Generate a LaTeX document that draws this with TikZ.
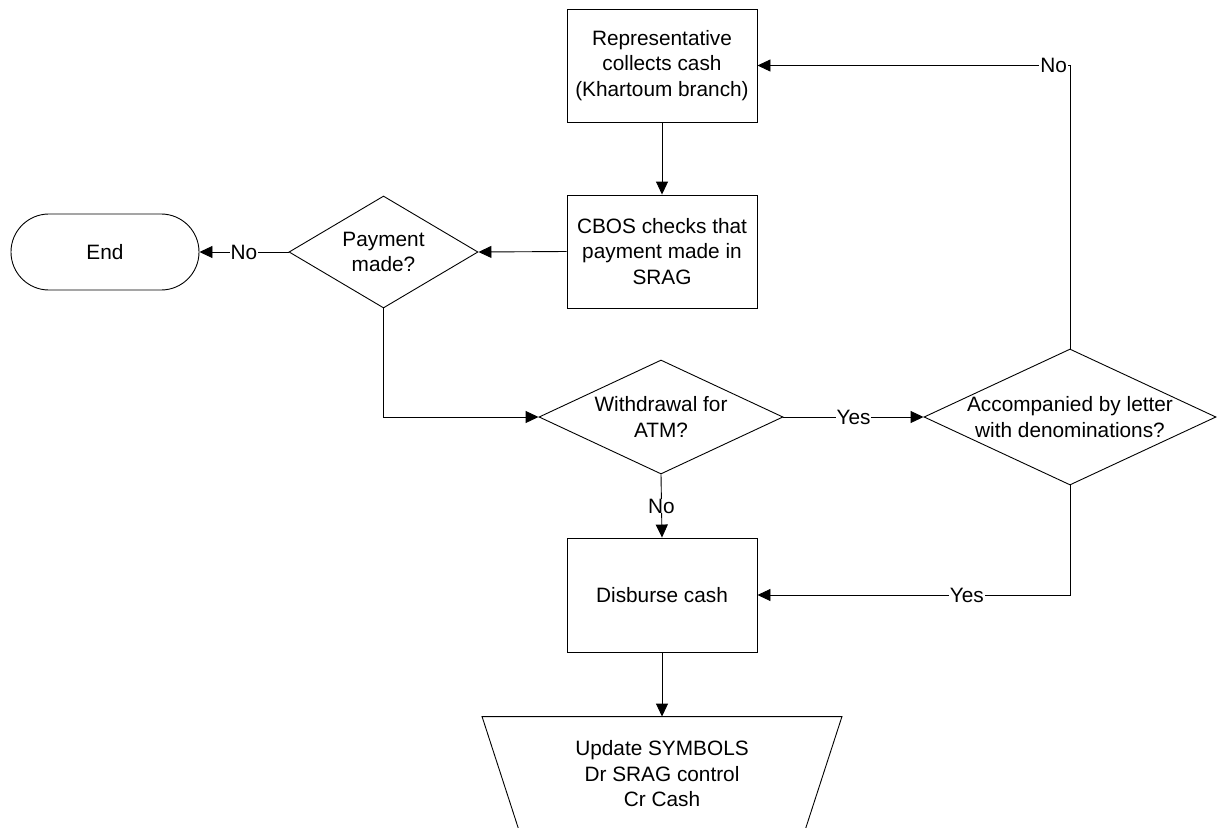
\documentclass[tikz,border=0pt]{standalone}
\usepackage{fontspec}
\setmainfont{Liberation Sans}
\usetikzlibrary{arrows.meta,shapes.geometric}
\begin{document}
\begin{tikzpicture}[x=1pt,y=-1pt,line width=0.9pt,
  every node/.style={font=\fontsize{20.8}{25.5}\selectfont, align=center, inner sep=0pt},
  proc/.style={draw, rectangle, minimum width=190pt, minimum height=113pt},
  decision/.style n args={2}{draw, diamond, minimum width=#1, minimum height=#2},
  terminal/.style={draw, rectangle, rounded corners=37.9pt, minimum width=188pt, minimum height=76pt},
  manualop/.style={rectangle, minimum width=359pt, minimum height=114pt},
  link/.style={-{Triangle[length=13pt,width=12pt]}},
  lbl/.style={fill=white, inner xsep=1pt, inner ysep=0pt}]
  \useasboundingbox (0,0) rectangle (1217,827);
  \clip (0,0) rectangle (1217,827);

  % process steps
  \node[proc] (collect) at (662,65.5) {Representative\\collects cash\\(Khartoum branch)};
  \node[proc] (cbos) at (662,251.5) {CBOS checks that\\payment made in\\SRAG};
  \node[proc, minimum height=114pt] (disburse) at (662,595) {Disburse cash};
  \node[terminal] (end) at (105,252) {End};

  % decisions (text placed as centred labels so the diamond keeps its size)
  \node[decision={189pt}{112pt}, label={[align=center]center:Payment\\made?}] (paid) at (383.5,252) {};
  \node[decision={244pt}{114pt}, label={[align=center]center:Withdrawal for\\ATM?}] (atm) at (661,417) {};
  \node[decision={292pt}{136pt}, label={[align=center]center:Accompanied by letter\\with denominations?}] (letter) at (1070,417) {};

  % manual operation, running off the lower edge
  \node[manualop] (update) at (662,774) {Update SYMBOLS\\Dr SRAG control\\Cr Cash};
  \draw (update.north west) -- (update.north east)
    -- ([xshift=-37.3pt]update.south east) -- ([xshift=37.3pt]update.south west) -- cycle;

  % connectors
  \draw[link] (collect.south) -- (cbos.north);
  \draw[link] (cbos.west) -- (paid.east);
  \draw[link] (paid.west) -- node[lbl] {No} (end.east);
  \draw[link] (paid.south) |- (atm.west);
  \draw[link] (atm.east) -- node[lbl] {Yes} (letter.west);
  \draw[link] (atm.south) -- node[lbl] {No} (disburse.north);
  \draw[link] (letter.south) |- node[lbl, pos=0.665] {Yes} (disburse.east);
  \draw[link] (letter.north) |- node[lbl, pos=0.526] {No} (collect.east);
  \draw[link] (disburse.south) -- (update.north);
\end{tikzpicture}
\end{document}
